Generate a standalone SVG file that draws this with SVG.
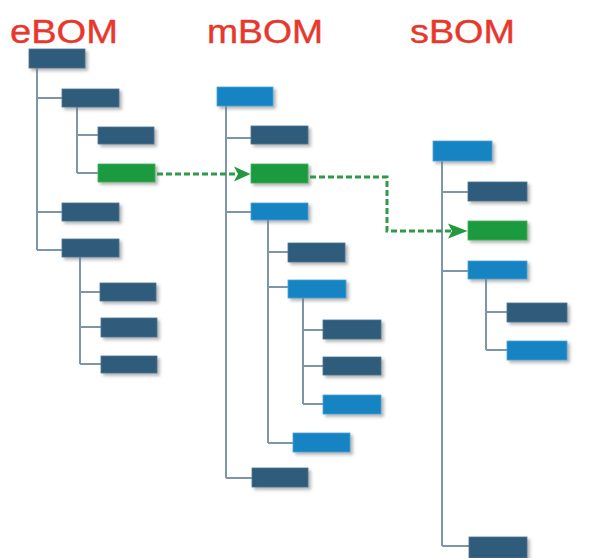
<svg xmlns="http://www.w3.org/2000/svg" width="604" height="558" viewBox="0 0 604 558">
<defs>
<filter id="sh" x="-20%" y="-30%" width="150%" height="180%">
<feDropShadow dx="2.5" dy="2.5" stdDeviation="1.5" flood-color="#7a7a7a" flood-opacity="0.55"/>
</filter>
<style>
.t{font-family:"Liberation Sans",Arial,sans-serif;font-size:33px;fill:#e8372c;stroke:#e8372c;stroke-width:0.4;}
.d{fill:#2f5b7a;stroke:#4c7593;stroke-width:0.8;filter:url(#sh);}
.l{fill:#1784c2;stroke:#4aa3d6;stroke-width:0.8;filter:url(#sh);}
.g{fill:#1f9a40;stroke:#3bb25a;stroke-width:0.8;filter:url(#sh);}
.ln{fill:none;stroke:#7f95a8;stroke-width:2;}
.ds{fill:none;stroke:#2e9a4a;stroke-width:3;stroke-dasharray:6 3;}
.ah{fill:#22983f;}
</style>
</defs>
<rect width="604" height="558" fill="#ffffff"/>
<text class="t" x="10" y="42.5" textLength="108" lengthAdjust="spacingAndGlyphs">eBOM</text>
<text class="t" x="207" y="42.5" textLength="116" lengthAdjust="spacingAndGlyphs">mBOM</text>
<text class="t" x="410" y="42.5" textLength="105" lengthAdjust="spacingAndGlyphs">sBOM</text>
<g id="tree-lines">
<path class="ln" d="M37,68 V250 M37,98 H62 M37,212 H62 M37,250 H62"/>
<path class="ln" d="M77,107 V173 M77,135 H98 M77,173 H98"/>
<path class="ln" d="M80,257 V364 M80,292 H100 M80,327 H101 M80,364 H101"/>
<path class="ln" d="M226,106 V478 M226,138 H251 M226,212 H251 M226,478 H252"/>
<path class="ln" d="M268,220 V443 M268,252 H288 M268,287 H288 M268,443 H293"/>
<path class="ln" d="M303,298 V404 M303,330 H323 M303,366 H323 M303,404 H323"/>
<path class="ln" d="M442,161 V546 M442,192 H468 M442,271 H468 M442,546 H469"/>
<path class="ln" d="M486,279 V350 M486,312 H507 M486,350 H507"/>
</g>
<g id="eBOM">
<rect id="e-root" class="d" x="29" y="49" width="56" height="19"/>
<rect id="e-c1" class="d" x="62" y="89" width="57" height="18"/>
<rect id="e-c1a" class="d" x="98" y="127" width="56" height="17"/>
<rect id="e-c1b" class="g" x="98" y="164" width="57" height="18"/>
<rect id="e-c2" class="d" x="62" y="203" width="57" height="18"/>
<rect id="e-c3" class="d" x="62" y="239" width="57" height="18"/>
<rect id="e-c3a" class="d" x="100" y="283" width="56" height="18"/>
<rect id="e-c3b" class="d" x="101" y="318" width="56" height="19"/>
<rect id="e-c3c" class="d" x="101" y="356" width="56" height="17"/>
</g>
<g id="mBOM">
<rect id="m-root" class="l" x="217" y="87" width="56" height="19"/>
<rect id="m-c1" class="d" x="251" y="126" width="57" height="18"/>
<rect id="m-c2" class="g" x="251" y="164" width="57" height="19"/>
<rect id="m-c3" class="l" x="251" y="203" width="57" height="17"/>
<rect id="m-c3a" class="d" x="288" y="243" width="57" height="19"/>
<rect id="m-c3b" class="l" x="288" y="280" width="58" height="18"/>
<rect id="m-c3b1" class="d" x="323" y="320" width="58" height="19"/>
<rect id="m-c3b2" class="d" x="323" y="357" width="58" height="18"/>
<rect id="m-c3b3" class="l" x="323" y="395" width="58" height="19"/>
<rect id="m-c3c" class="l" x="293" y="433" width="57" height="19"/>
<rect id="m-c4" class="d" x="252" y="468" width="56" height="19"/>
</g>
<g id="sBOM">
<rect id="s-root" class="l" x="433" y="141" width="59" height="20"/>
<rect id="s-c1" class="d" x="468" y="182" width="59" height="19"/>
<rect id="s-c2" class="g" x="468" y="221" width="59" height="19"/>
<rect id="s-c3" class="l" x="468" y="261" width="59" height="18"/>
<rect id="s-c3a" class="d" x="507" y="303" width="60" height="19"/>
<rect id="s-c3b" class="l" x="507" y="341" width="60" height="19"/>
<rect id="s-c4" class="d" x="469" y="537" width="58" height="21"/>
</g>
<g id="connectors">
<path class="ds" d="M157,174 H238"/>
<path class="ah" d="M234,166.5 L250.5,174 L234,181.5 L238,174 Z"/>
<path class="ds" d="M310,177 H387 V231 H452"/>
<path class="ah" d="M448,223.5 L467.5,231 L448,238.5 L452,231 Z"/>
</g>
</svg>
